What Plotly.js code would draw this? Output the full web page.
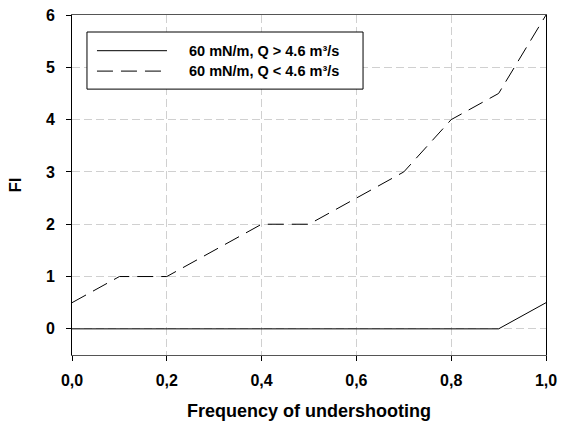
<!DOCTYPE html>
<html>
<head>
<meta charset="utf-8">
<script src="https://cdn.plot.ly/plotly-3.0.1.min.js"></script>
<style>html,body{margin:0;padding:0;background:#fff;}#chart{width:564px;height:428px;}</style>
</head>
<body>
<div id="chart"></div>
<script>
const xValues = [0.0, 0.1, 0.2, 0.3, 0.4, 0.5, 0.6, 0.7, 0.8, 0.9, 1.0];
const fiHighQ = [0, 0, 0, 0, 0, 0, 0, 0, 0, 0, 0.5];
const fiLowQ = [0.5, 1, 1, 1.5, 2, 2, 2.5, 3, 4, 4.5, 6];
const seriesNames = ["60 mN/m, Q > 4.6 m³/s", "60 mN/m, Q < 4.6 m³/s"];
const xTickVals = [0, 0.2, 0.4, 0.6, 0.8, 1.0];
const xTickText = ["0,0", "0,2", "0,4", "0,6", "0,8", "1,0"];
const yTickVals = [0, 1, 2, 3, 4, 5, 6];

const FONT = "Liberation Sans, Arial, sans-serif";
const DASH = "16px,8px";

const traces = [
  {x: xValues, y: fiHighQ, name: seriesNames[0], type: "scatter", mode: "lines",
   line: {color: "#000", width: 1}, showlegend: false},
  {x: xValues, y: fiLowQ, name: seriesNames[1], type: "scatter", mode: "lines",
   line: {color: "#000", width: 1, dash: DASH}, showlegend: false}
];

// custom legend (paper coordinates)
const legendRows = [0.895, 0.835];
const shapes = [
  {type: "rect", xref: "paper", yref: "paper", x0: 0.0316, x1: 0.614, y0: 0.782, y1: 0.95,
   line: {color: "#000", width: 1}, fillcolor: "#fff", layer: "above"},
  {type: "line", xref: "paper", yref: "paper", x0: 0.0527, x1: 0.2004, y0: legendRows[0], y1: legendRows[0],
   line: {color: "#000", width: 1}, layer: "above"},
  {type: "line", xref: "paper", yref: "paper", x0: 0.0527, x1: 0.2004, y0: legendRows[1], y1: legendRows[1],
   line: {color: "#000", width: 1, dash: DASH}, layer: "above"}
];
const annotations = seriesNames.map((n, i) => ({
  xref: "paper", yref: "paper", x: 0.2426, y: legendRows[i], xanchor: "left", yanchor: "middle",
  text: n, showarrow: false, font: {family: FONT, size: 14.5, weight: "bold", color: "#000"}
}));

const layout = {
  width: 564, height: 428,
  margin: {l: 72, r: 18, t: 15, b: 73},
  paper_bgcolor: "#fff", plot_bgcolor: "#fff",
  font: {family: FONT, color: "#000"},
  showlegend: false,
  shapes: shapes,
  annotations: annotations,
  xaxis: {
    range: [0, 1], tickvals: xTickVals, ticktext: xTickText,
    ticks: "outside", ticklen: 5, tickcolor: "#000", ticklabelstandoff: 6,
    showline: true, linecolor: "#555", linewidth: 1, mirror: true,
    showgrid: true, gridcolor: "#d0d0d0", griddash: "8px,4px", gridwidth: 1,
    zeroline: false,
    tickfont: {family: FONT, size: 16, weight: "bold"},
    title: {text: "Frequency of undershooting", font: {family: FONT, size: 18, weight: "bold"}, standoff: 16}
  },
  yaxis: {
    range: [-0.5, 6], tickvals: yTickVals,
    ticks: "outside", ticklen: 5, tickcolor: "#000", ticklabelstandoff: 8,
    showline: true, linecolor: "#000", linewidth: 1, mirror: true,
    showgrid: true, gridcolor: "#d0d0d0", griddash: "8px,4px", gridwidth: 1,
    zeroline: false,
    tickfont: {family: FONT, size: 16, weight: "bold"},
    title: {text: "FI", font: {family: FONT, size: 17, weight: "bold"}, standoff: 19}
  }
};

Plotly.newPlot("chart", traces, layout, {displayModeBar: false, staticPlot: true});
</script>
</body>
</html>
